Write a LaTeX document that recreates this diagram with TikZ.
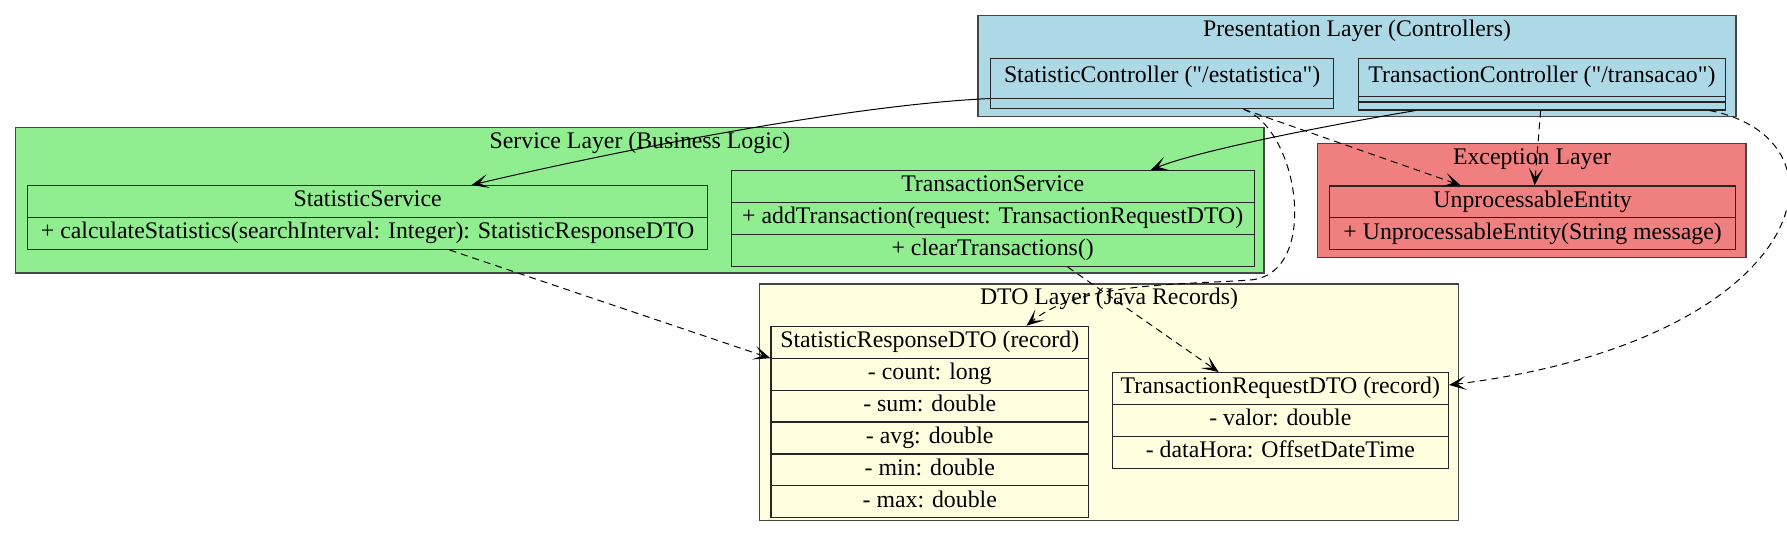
\documentclass[tikz,border=0pt]{standalone}
\usepackage{fontspec}
\setmainfont{Liberation Serif}
\usetikzlibrary{shapes.multipart,arrows.meta}
\definecolor{presblue}{HTML}{ADD8E6}
\definecolor{servgreen}{HTML}{90EE90}
\definecolor{exccoral}{HTML}{F08080}
\definecolor{dtoyellow}{HTML}{FFFFE0}
\definecolor{bordogrigio}{HTML}{454545}
\newcommand{\campo}[1]{\rule[-5pt]{0pt}{15.35pt}#1}
\begin{document}
\begin{tikzpicture}[x=0.5pt,y=-0.5pt,font=\fontsize{11.9}{14}\selectfont,
    layer/.style={draw=bordogrigio,line width=0.6pt},
    record/.style={draw=black!85,line width=0.6pt,rectangle split,rectangle split draw splits,
      inner xsep=0pt,inner ysep=0pt,anchor=north west},
    uses/.style={-{Stealth[length=8.5pt,width=7pt,inset=4.5pt]},line width=0.5pt},
    dep/.style={uses,dash pattern=on 3.5pt off 2.5pt}]
        \useasboundingbox (0,0) rectangle (1787,537);

        % Disegna i layer
        \draw[layer,fill=presblue] (978,15.7) rectangle (1736,116.7);
        \draw[layer,fill=servgreen] (15.7,127.7) rectangle (1264,273);
        \draw[layer,fill=exccoral] (1317.5,143.3) rectangle (1746,257.7);
        \draw[layer,fill=dtoyellow] (759.7,284) rectangle (1458.8,520.7);
        \node[anchor=base] (prestitle) at (1357,36) {Presentation Layer (Controllers)};
        \node[anchor=base] (servtitle) at (640,148.3) {Service Layer (Business Logic)};
        \node[anchor=base] (exctitle) at (1532,164.3) {Exception Layer};
        \node[anchor=base] (dtotitle) at (1109,304.3) {DTO Layer (Java Records)};

        % Disegna i controller
        \node[record,rectangle split parts=2,fill=presblue,minimum width=171.5pt] (sc) at (990,57.7)
            {\rule[-7.5pt]{0pt}{19.5pt}StatisticController (\textquotedbl/estatistica\textquotedbl)\nodepart{two}\rule{0pt}{4.5pt}};
        \node[record,rectangle split parts=3,fill=presblue,minimum width=183.7pt] (tc) at (1357.6,57.7)
            {\rule[-6.3pt]{0pt}{18.3pt}TransactionController (\textquotedbl/transacao\textquotedbl)\nodepart{two}\rule{0pt}{2.35pt}\nodepart{three}\rule{0pt}{3.35pt}};

        % Disegna i servizi
        \node[record,rectangle split parts=2,fill=servgreen,minimum width=340pt] (ss) at (27,185)
            {\campo{StatisticService}\nodepart{two}\campo{+ calculateStatistics(searchInterval: Integer): StatisticResponseDTO}};
        \node[record,rectangle split parts=3,fill=servgreen,minimum width=261.6pt] (ts) at (730.5,170)
            {\campo{TransactionService}\nodepart{two}\campo{+ addTransaction(request: TransactionRequestDTO)}\nodepart{three}\campo{+ clearTransactions()}};

        % Disegna l'eccezione
        \node[record,rectangle split parts=2,fill=exccoral,minimum width=203pt] (ue) at (1329,185.3)
            {\campo{UnprocessableEntity}\nodepart{two}\campo{+ UnprocessableEntity(String message)}};

        % Disegna i DTO
        \node[record,rectangle split parts=6,fill=dtoyellow,minimum width=158.85pt] (sr) at (770.3,325.7)
            {\campo{StatisticResponseDTO (record)}\nodepart{two}\campo{- count: long}\nodepart{three}\campo{- sum: double}%
             \nodepart{four}\campo{- avg: double}\nodepart{five}\campo{- min: double}\nodepart{six}\campo{- max: double}};
        \node[record,rectangle split parts=3,fill=dtoyellow,minimum width=168.1pt] (tr) at (1111.6,372)
            {\campo{TransactionRequestDTO (record)}\nodepart{two}\campo{- valor: double}\nodepart{three}\campo{- dataHora: OffsetDateTime}};

        % Disegna le dipendenze
        \draw[uses] (sc.text split west) .. controls (850,105) and (620,150) .. ([xshift=52pt]ss.north);
        \draw[uses] ([xshift=-63.15pt]tc.south) .. controls (1330,125) and (1200,150) .. ([xshift=79pt]ts.north);
        \draw[dep] ([xshift=40.75pt]sc.south) -- ([xshift=-36pt]ue.north);
        \draw[dep] ([xshift=-0.65pt]tc.south) -- ([xshift=1pt]ue.north);
        \draw[dep] ([xshift=83.85pt]tc.south) .. controls (1860,140) and (1810,340) .. ([yshift=-6.5pt]tr.north east);
        \draw[dep] ([xshift=40.75pt]sc.south) .. controls (1300,130) and (1320,275) .. (1250,280)
            .. controls (1180,285) and (1080,282) .. ([xshift=48.4pt]sr.north);
        \draw[dep] ([xshift=41pt]ss.south) -- (sr.text split west);
        \draw[dep] ([xshift=37.45pt]ts.south) -- ([xshift=-30.85pt]tr.north);
    \end{tikzpicture}
\end{document}
